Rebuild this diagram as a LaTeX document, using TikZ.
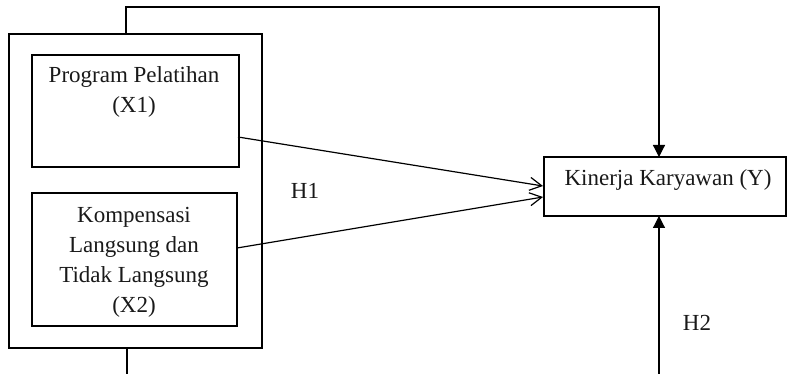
\documentclass[tikz,border=0pt]{standalone}
\usepackage{fontspec}
\setmainfont{Liberation Serif}
\usetikzlibrary{arrows.meta}
\begin{document}
\begin{tikzpicture}[x=1pt,y=-1pt,
  box/.style={draw, line width=1.2pt, inner sep=0pt, outer sep=0pt},
  txt/.style={align=center, inner sep=0pt, text=black!90, font=\fontsize{23}{30}\selectfont},
  link/.style={line width=1.2pt},
  barb/.style={link, -{Straight Barb[length=12pt, width=13pt, line width=1.2pt]}},
  solid arrow/.style={link, -{Triangle[length=12pt, width=12pt]}}]
  \useasboundingbox (0,0) rectangle (788,374);

  % frame holding both independent variables
  \node[box, minimum width=253pt, minimum height=314pt] (outer) at (135.5,191) {};
  % X1
  \node[box, minimum width=207pt, minimum height=112pt] (x1) at (135.5,111) {};
  \node[txt] (x1t) at (134,92) {Program Pelatihan\\(X1)};
  % X2
  \node[box, minimum width=205pt, minimum height=133pt] (x2) at (134.5,259.5) {};
  \node[txt] (x2t) at (134,262) {Kompensasi\\Langsung dan\\Tidak Langsung\\(X2)};
  % Y
  \node[box, minimum width=242pt, minimum height=59pt] (kin) at (665,186.5) {};
  \node[txt] (kint) at (668,180) {Kinerja Karyawan (Y)};

  % hypothesis labels
  \node[txt] (h1) at (305,191) {H1};
  \node[txt] (h2) at (697,323) {H2};

  % route over the top into Y
  \coordinate (t1) at (126,7);
  \coordinate (t2) at (659,7);
  \draw[solid arrow] (outer.north -| t1) -- (t1) -- (t2) -- (t2 |- kin.north);

  % direct paths from X1 and X2 into Y
  \coordinate (s1) at (238,137);
  \coordinate (e1) at (543,186);
  \coordinate (s2) at (237,248);
  \coordinate (e2) at (543,197);
  \draw[barb] (s1) -- (e1);
  \draw[barb] (s2) -- (e2);

  % lines leaving through the lower edge
  \coordinate (b1) at (127,374);
  \coordinate (b2) at (659,374);
  \draw[link] (outer.south -| b1) -- (b1);
  \draw[solid arrow] (b2) -- (b2 |- kin.south);
\end{tikzpicture}
\end{document}
